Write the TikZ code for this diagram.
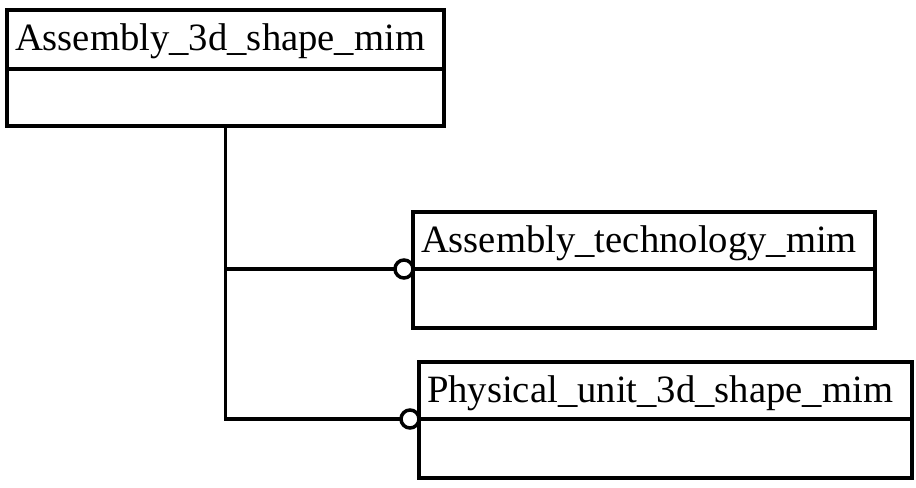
\documentclass[tikz,border=0pt]{standalone}
\usepackage{fontspec}
\setmainfont{Liberation Serif}
\usetikzlibrary{positioning}

\begin{document}
\begin{tikzpicture}[line width=2pt,
  clstitle/.style={draw,anchor=north west,outer sep=0pt,inner xsep=0.16cm,inner ysep=0pt,align=left,
    text height=0.7cm,text depth=0.24cm,font=\fontsize{22}{24}\selectfont},
  clsbody/.style={draw,anchor=north west,outer sep=0pt,inner sep=0pt},
  link/.style={line width=2pt},
  opt/.style={draw,circle,outer sep=0pt,inner sep=0pt,minimum size=0.36cm,anchor=east}]
\useasboundingbox (0,0) rectangle (18.32,-9.76);
% upper entity
\node[clstitle,text width=8.42cm,minimum height=1.18cm] (shape) at (0.14,-0.20) {Assembly\_3d\_shape\_mim};
\node[clsbody,minimum width=8.74cm,minimum height=1.14cm] (shapebody) at (shape.south west) {};
% the two entities it refers to
\node[clstitle,text width=8.92cm,minimum height=1.14cm] (tech) at (8.26,-4.24) {Assembly\_technology\_mim};
\node[clsbody,minimum width=9.24cm,minimum height=1.18cm] (techbody) at (tech.south west) {};
\node[clstitle,text width=9.54cm,minimum height=1.14cm] (unit) at (8.38,-7.24) {Physical\_unit\_3d\_shape\_mim};
\node[clsbody,minimum width=9.86cm,minimum height=1.18cm] (unitbody) at (unit.south west) {};
% optional ends
\node[opt] (techend) at (tech.south west) {};
\node[opt] (unitend) at (unit.south west) {};
\draw[link] (shapebody.south) |- (techend.west);
\draw[link] (shapebody.south) |- (unitend.west);
\end{tikzpicture}
\end{document}
